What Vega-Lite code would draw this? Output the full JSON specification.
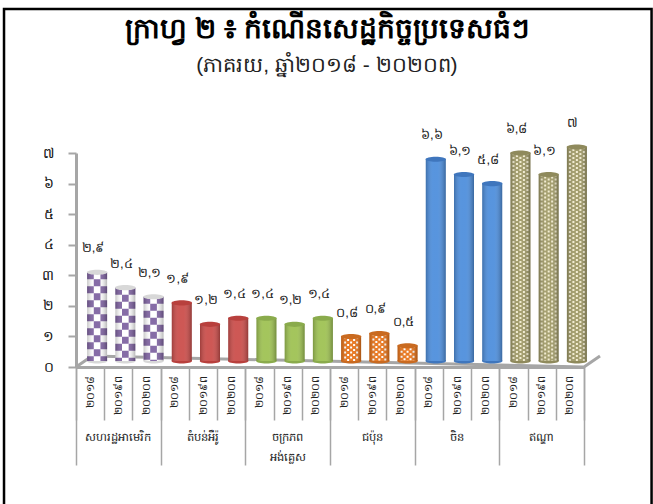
{"$schema":"https://vega.github.io/schema/vega-lite/v6.json","width":508,"height":214,"autosize":"none","padding":{"left":76,"top":153,"right":69,"bottom":137},"background":"white","config":{"view":{"stroke":null},"axisY":{"tickCount":8,"grid":false,"domainColor":"#a6a6a6","domainWidth":3,"ticks":true,"tickColor":"#a6a6a6","tickWidth":2,"tickSize":8,"labelFontSize":14,"labelColor":"#111","labelPadding":15,"labelOverlap":false,"labelExpr":"['០','១','២','៣','៤','៥','៦','៧'][datum.value]"}},
"datasets":{"rows":[
{"cat":"សហរដ្ឋអាមេរិក","key":"a|២០១៨","v":2.9,"t":"២,៩"},{"cat":"សហរដ្ឋអាមេរិក","key":"a|២០១៩ព","v":2.4,"t":"២,៤"},{"cat":"សហរដ្ឋអាមេរិក","key":"a|២០២០ព","v":2.1,"t":"២,១"},
{"cat":"តំបន់អឺរ៉ូ","key":"b|២០១៨","v":1.9,"t":"១,៩"},{"cat":"តំបន់អឺរ៉ូ","key":"b|២០១៩ព","v":1.2,"t":"១,២"},{"cat":"តំបន់អឺរ៉ូ","key":"b|២០២០ព","v":1.4,"t":"១,៤"},
{"cat":"ចក្រភព អង់គ្លេស","key":"c|២០១៨","v":1.4,"t":"១,៤"},{"cat":"ចក្រភព អង់គ្លេស","key":"c|២០១៩ព","v":1.2,"t":"១,២"},{"cat":"ចក្រភព អង់គ្លេស","key":"c|២០២០ព","v":1.4,"t":"១,៤"},
{"cat":"ជប៉ុន","key":"d|២០១៨","v":0.8,"t":"០,៨"},{"cat":"ជប៉ុន","key":"d|២០១៩ព","v":0.9,"t":"០,៩"},{"cat":"ជប៉ុន","key":"d|២០២០ព","v":0.5,"t":"០,៥"},
{"cat":"ចិន","key":"e|២០១៨","v":6.6,"t":"៦,៦"},{"cat":"ចិន","key":"e|២០១៩ព","v":6.1,"t":"៦,១"},{"cat":"ចិន","key":"e|២០២០ព","v":5.8,"t":"៥,៨"},
{"cat":"ឥណ្ឌា","key":"f|២០១៨","v":6.8,"t":"៦,៨"},{"cat":"ឥណ្ឌា","key":"f|២០១៩ព","v":6.1,"t":"៦,១"},{"cat":"ឥណ្ឌា","key":"f|២០២០ព","v":7,"t":"៧"}],
"groups":[{"cat":"សហរដ្ឋអាមេរិក","lab":"សហរដ្ឋអាមេរិក"},{"cat":"តំបន់អឺរ៉ូ","lab":"តំបន់អឺរ៉ូ"},{"cat":"ចក្រភព អង់គ្លេស","lab":"ចក្រភព|អង់គ្លេស"},{"cat":"ជប៉ុន","lab":"ជប៉ុន"},{"cat":"ចិន","lab":"ចិន"},{"cat":"ឥណ្ឌា","lab":"ឥណ្ឌា"}],
"floor":[{"fx":0,"fy":0},{"fx":0.0315,"fy":0.36},{"fx":1.0315,"fy":0.36},{"fx":1,"fy":0}]},
"resolve":{"scale":{"x":"independent"},"axis":{"x":"independent"}},
"layer":[
{"data":{"name":"floor"},"mark":{"type":"line","color":"#a6a6a6","strokeWidth":3},
"encoding":{"x":{"field":"fx","type":"quantitative","scale":{"domain":[0,1]},"axis":null},"y":{"field":"fy","type":"quantitative","title":null,"scale":{"domain":[0,7]}},"order":{"field":"fx","type":"quantitative"}}},
{"data":{"name":"groups"},"mark":{"type":"text","fontSize":11.5,"color":"#222","lineBreak":"|","baseline":"middle","lineHeight":20},
"encoding":{"x":{"field":"cat","type":"nominal","sort":null,"scale":{"paddingInner":0,"paddingOuter":0},"axis":{"orient":"bottom","title":null,"labels":false,"domain":false,"tickBand":"extent","tickSize":98,"tickColor":"#a6a6a6","tickWidth":1.5}},"y":{"datum":-2.32,"type":"quantitative"},"text":{"field":"lab"}}},
{"data":{"name":"rows"},"encoding":{"x":{"field":"key","type":"nominal","sort":null,"scale":{"paddingInner":0,"paddingOuter":0},"axis":{"orient":"bottom","title":null,"domainColor":"#a6a6a6","domainWidth":3,"tickBand":"extent","tickSize":53,"tickColor":"#a6a6a6","tickWidth":1.5,"labelAngle":270,"labelAlign":"right","labelBaseline":"middle","labelPadding":-45,"labelFontSize":11,"labelColor":"#222","labelExpr":"split(datum.label,'|')[1]"}},"y":{"field":"v","type":"quantitative","title":null}},
"layer":[
{"mark":{"type":"point","filled":true,"opacity":1,"size":420,"shape":"M-1,0A1,0.25 0 1,1 1,0A1,0.25 0 1,1 -1,0Z","xOffset":7,"yOffset":-6},"encoding":{"y":{"datum":0,"type":"quantitative"},"fill":{"field":"cat","legend":null,"sort":null,"scale":{"domain":["សហរដ្ឋអាមេរិក","តំបន់អឺរ៉ូ","ចក្រភព អង់គ្លេស","ជប៉ុន","ចិន","ឥណ្ឌា"],"range":["#d8d8d8","#b8403d","#8aab4c","#c96a20","#3f76bd","#8f8a5c"]}}}},
{"mark":{"type":"bar","width":20,"xOffset":7,"yOffset":-6,"y2Offset":-6,"opacity":1},"encoding":{"y2":{"datum":0},"color":{"field":"cat","legend":null,"sort":null,"scale":{"domain":["សហរដ្ឋអាមេរិក","តំបន់អឺរ៉ូ","ចក្រភព អង់គ្លេស","ជប៉ុន","ចិន","ឥណ្ឌា"],"range":["#ffffff","#cb4f4c","#9fc254","#e8741a","#4f8fdc","#a09a68"]}}}},
{"transform":[{"filter":"datum.cat=='សហរដ្ឋអាមេរិក'"}],"layer":[
{"mark":{"type":"rule","color":"#8064a2","strokeWidth":6.67,"strokeDash":[7,7],"xOffset":0.33,"yOffset":-6,"y2Offset":-6},"encoding":{"y2":{"datum":0}}},
{"mark":{"type":"rule","color":"#8064a2","strokeWidth":6.67,"strokeDash":[7,7],"strokeDashOffset":7,"xOffset":7,"yOffset":-6,"y2Offset":-6},"encoding":{"y2":{"datum":0}}},
{"mark":{"type":"rule","color":"#8064a2","strokeWidth":6.67,"strokeDash":[7,7],"xOffset":13.67,"yOffset":-6,"y2Offset":-6},"encoding":{"y2":{"datum":0}}}]},
{"transform":[{"filter":"datum.cat=='ជប៉ុន'"}],"layer":[
{"mark":{"type":"rule","color":"#ffffff","strokeWidth":2,"strokeDash":[2,3],"xOffset":1,"yOffset":-6,"y2Offset":-6},"encoding":{"y2":{"datum":0}}},
{"mark":{"type":"rule","color":"#ffffff","strokeWidth":2,"strokeDash":[2,3],"strokeDashOffset":2.5,"xOffset":4,"yOffset":-6,"y2Offset":-6},"encoding":{"y2":{"datum":0}}},
{"mark":{"type":"rule","color":"#ffffff","strokeWidth":2,"strokeDash":[2,3],"xOffset":7,"yOffset":-6,"y2Offset":-6},"encoding":{"y2":{"datum":0}}},
{"mark":{"type":"rule","color":"#ffffff","strokeWidth":2,"strokeDash":[2,3],"strokeDashOffset":2.5,"xOffset":10,"yOffset":-6,"y2Offset":-6},"encoding":{"y2":{"datum":0}}},
{"mark":{"type":"rule","color":"#ffffff","strokeWidth":2,"strokeDash":[2,3],"xOffset":13,"yOffset":-6,"y2Offset":-6},"encoding":{"y2":{"datum":0}}}]},
{"transform":[{"filter":"datum.cat=='ឥណ្ឌា'"}],"layer":[
{"mark":{"type":"rule","color":"#f2ecd0","strokeWidth":2,"strokeDash":[2,2],"xOffset":0,"yOffset":-6,"y2Offset":-6},"encoding":{"y2":{"datum":0}}},
{"mark":{"type":"rule","color":"#f2ecd0","strokeWidth":2,"strokeDash":[2,2],"strokeDashOffset":2,"xOffset":3.5,"yOffset":-6,"y2Offset":-6},"encoding":{"y2":{"datum":0}}},
{"mark":{"type":"rule","color":"#f2ecd0","strokeWidth":2,"strokeDash":[2,2],"xOffset":7,"yOffset":-6,"y2Offset":-6},"encoding":{"y2":{"datum":0}}},
{"mark":{"type":"rule","color":"#f2ecd0","strokeWidth":2,"strokeDash":[2,2],"strokeDashOffset":2,"xOffset":10.5,"yOffset":-6,"y2Offset":-6},"encoding":{"y2":{"datum":0}}},
{"mark":{"type":"rule","color":"#f2ecd0","strokeWidth":2,"strokeDash":[2,2],"xOffset":14,"yOffset":-6,"y2Offset":-6},"encoding":{"y2":{"datum":0}}}]},
{"mark":{"type":"bar","width":20,"xOffset":7,"yOffset":-6,"y2Offset":-6,"fill":{"gradient":"linear","x1":0,"x2":1,"y1":0,"y2":0,"stops":[{"offset":0,"color":"rgba(0,0,0,0.22)"},{"offset":0.35,"color":"rgba(255,255,255,0.05)"},{"offset":0.6,"color":"rgba(255,255,255,0.05)"},{"offset":1,"color":"rgba(0,0,0,0.28)"}]}},"encoding":{"y2":{"datum":0}}},
{"mark":{"type":"point","filled":true,"opacity":1,"size":420,"shape":"M-1,0A1,0.25 0 1,1 1,0A1,0.25 0 1,1 -1,0Z","xOffset":7,"yOffset":-6},"encoding":{"fill":{"field":"cat","legend":null,"sort":null,"scale":{"domain":["សហរដ្ឋអាមេរិក","តំបន់អឺរ៉ូ","ចក្រភព អង់គ្លេស","ជប៉ុន","ចិន","ឥណ្ឌា"],"range":["#d8d8d8","#b8403d","#8aab4c","#c96a20","#3f76bd","#8f8a5c"]}}}},
{"mark":{"type":"text","fontSize":13,"color":"#222","xOffset":3,"yOffset":-30,"baseline":"middle"},"encoding":{"text":{"field":"t"}}}
]},
{"data":{"values":[{"part":"frame"}]},"mark":{"type":"rect","fill":null,"stroke":"black","strokeWidth":2.5},"encoding":{"x":{"datum":-0.1417,"type":"quantitative","scale":{"domain":[0,1]},"axis":null},"x2":{"datum":1.133},"y":{"datum":11.71,"type":"quantitative"},"y2":{"datum":-5}}},
{"data":{"values":[{"s":"ក្រាហ្វ ២ ៖ កំណើនសេដ្ឋកិច្ចប្រទេសធំៗ"}]},"mark":{"type":"text","fontSize":28,"fontWeight":"bold","color":"black","baseline":"middle"},"encoding":{"x":{"datum":0.494,"type":"quantitative","scale":{"domain":[0,1]},"axis":null},"y":{"datum":11.02,"type":"quantitative"},"text":{"field":"s"}}},
{"data":{"values":[{"s":"(ភាគរយ, ឆ្នាំ២០១៨ - ២០២០ព)"}]},"mark":{"type":"text","fontSize":21,"color":"#222","baseline":"middle"},"encoding":{"x":{"datum":0.494,"type":"quantitative","scale":{"domain":[0,1]},"axis":null},"y":{"datum":9.85,"type":"quantitative"},"text":{"field":"s"}}}
]}
